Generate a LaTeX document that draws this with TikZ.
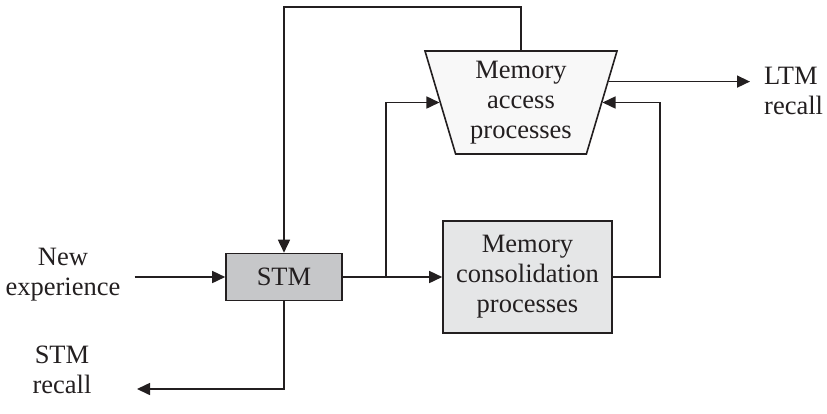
\documentclass[tikz,border=0pt]{standalone}
\usepackage{fontspec}
\setmainfont{Liberation Serif}
\usetikzlibrary{arrows.meta,shapes.geometric,calc}
\definecolor{ink}{HTML}{231F20}
\definecolor{stmfill}{HTML}{C6C7C9}
\definecolor{consfill}{HTML}{E5E6E7}
\definecolor{accfill}{HTML}{F8F8F8}
\begin{document}
\begin{tikzpicture}[x=1pt,y=-1pt,
  wire/.style={line width=1.6pt, draw=ink},
  arr/.style={wire, -{Triangle[length=13pt,width=12pt]}},
  txt/.style={align=center, inner sep=0pt, text=ink, font=\fontsize{26.5}{30}\selectfont},
  box/.style={txt, draw=ink, line width=1.6pt}]
\useasboundingbox (0,0) rectangle (827,413);

% processing blocks
\node[box, fill=stmfill, minimum width=116pt, minimum height=47pt] (stm) at (284,277) {STM};
\node[box, fill=consfill, minimum width=169pt, minimum height=112pt] (cons) at (527.5,277) {Memory\\consolidation\\processes};
\node[box, fill=accfill, trapezium, trapezium left angle=110.25, trapezium right angle=110.25,
      trapezium stretches body, minimum width=192pt, minimum height=103pt] (acc) at (521,102.5)
      {Memory\\access\\processes};

% external labels
\node[txt] (newexp) at (63,275) {New\\experience};
\node[txt] (stmrec) at (62,370) {STM\\recall};
\node[txt, align=left, anchor=west] (ltmrec) at (764,91) {LTM\\recall};

% points on the slanted sides of the access block
\coordinate (accL) at ($(acc.top left corner)!0.5!(acc.bottom left corner)$);
\coordinate (accR) at ($(acc.top right corner)!0.5!(acc.bottom right corner)$);
\coordinate (accO) at ($(acc.top right corner)!0.3!(acc.bottom right corner)$);
\coordinate (split) at ($(stm.east)!0.436!(cons.west)$);
\coordinate (inA) at ($(newexp.east |- stm.west)+(14,0)$);
\coordinate (ltmA) at ($(ltmrec.west |- accO)+(-14,0)$);
\coordinate (stmA) at (137,389);

% connectors
\draw[arr] (inA) -- (stm.west);
\draw[arr] (stm.east) -- (cons.west);
\draw[arr] (split) |- (accL);
\draw[arr] (cons.east) -- ++(47,0) |- (accR);
\draw[arr] (accO) -- (ltmA);
\draw[arr] (acc.north) -- ++(0,-43) -| (stm.north);
\draw[arr] (stm.south) |- (stmA);
\end{tikzpicture}
\end{document}
